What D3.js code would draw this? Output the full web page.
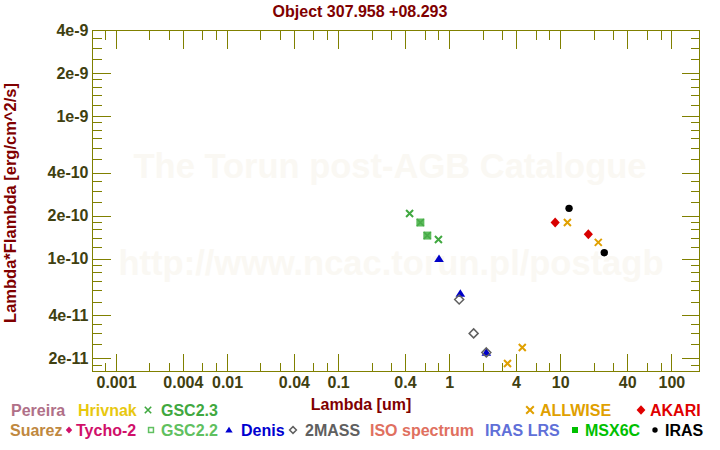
<!DOCTYPE html>
<html lang="en">
<head>
<meta charset="utf-8">
<title>Object 307.958 +08.293</title>
<script src="https://d3js.org/d3.v7.min.js"></script>
<style>
  body { margin: 0; background: #fff; }
  svg text { font-family: "Liberation Sans", Arial, sans-serif; font-weight: bold; }
</style>
</head>
<body>
<svg id="chart" width="720" height="450"></svg>
<script>
// photometry: wavelength [um] and lambda*F_lambda [erg/cm^2/s]
var gsc23Lambda = [0.44, 0.80];
var gsc23Flux = [2.07e-10, 1.36e-10];
var gsc22Lambda = [0.55, 0.635];
var gsc22Flux = [1.79e-10, 1.45e-10];
var denisLambda = [0.81, 1.26, 2.16];
var denisFlux = [1.0e-10, 5.7e-11, 2.2e-11];
var twomassLambda = [1.23, 1.66, 2.16];
var twomassFlux = [5.17e-11, 2.99e-11, 2.2e-11];
var allwiseLambda = [3.35, 4.55, 11.6, 22.0];
var allwiseFlux = [1.84e-11, 2.38e-11, 1.79e-10, 1.30e-10];
var akariLambda = [9.0, 17.9];
var akariFlux = [1.79e-10, 1.48e-10];
var irasLambda = [12.0, 24.9];
var irasFlux = [2.25e-10, 1.10e-10];

var xMajorTicks = [0.001, 0.004, 0.01, 0.04, 0.1, 0.4, 1, 4, 10, 40, 100];
var xTickLabels = ["0.001", "0.004", "0.01", "0.04", "0.1", "0.4", "1", "4", "10", "40", "100"];
var xMinorMantissa = [2, 3, 6, 8];
var yMajorTicks = [4e-9, 2e-9, 1e-9, 4e-10, 2e-10, 1e-10, 4e-11, 2e-11];
var yTickLabels = ["4e-9", "2e-9", "1e-9", "4e-10", "2e-10", "1e-10", "4e-11", "2e-11"];
var yMinorMantissa = [1.2, 1.4, 1.6, 1.8, 2.5, 3, 3.5, 5, 6, 7, 8, 9];

var legendNames = ["Pereira", "Hrivnak", "GSC2.3", "ALLWISE", "AKARI",
                   "Suarez", "Tycho-2", "GSC2.2", "Denis", "2MASS", "ISO spectrum", "IRAS LRS", "MSX6C", "IRAS"];
var legendColors = ["#b07088", "#e8c810", "#40a840", "#e0a000", "#e00000",
                    "#c08840", "#d0106a", "#60c060", "#0000d0", "#606060", "#e07060", "#6070d8", "#00c000", "#000000"];
var legendSymbols = [null, null, "cross", "cross", "diamond",
                     null, "diamond", "opensquare", "triangle", "opendiamond", null, null, "square", "dot"];
// layout of the legend: [symbol centre x, text x, row, symbol size]
var legendLayout = [[0, 11, 0, 0], [0, 78, 0, 0], [148, 161, 0, 3.2], [530, 540, 0, 3.8], [641, 650, 0, 4.4],
                    [0, 10, 1, 0], [69, 76, 1, 3.2], [151, 161, 1, 3.2], [229, 241, 1, 3.2], [293, 305, 1, 3.4],
                    [0, 370, 1, 0], [0, 485, 1, 0], [575, 585, 1, 3], [655, 665, 1, 2.7]];

var svg = d3.select("#chart");
var plotLeft = 92, plotRight = 699, plotTop = 30, plotBottom = 371;
var axisColor = "#808000";
var labelColor = "#404010";

var x = d3.scaleLog().domain([6.08e-4, 177.5]).range([plotLeft, plotRight]);
var y = d3.scaleLog().domain([1.63e-11, 4e-9]).range([plotBottom, plotTop]);

function minorTicks(scale, mantissas) {
  var dom = scale.domain();
  var lo = Math.floor(Math.log10(dom[0])) - 1, hi = Math.ceil(Math.log10(dom[1]));
  var out = [];
  for (var e = lo; e <= hi; e++) {
    mantissas.forEach(function(m) {
      var v = +(m * Math.pow(10, e)).toPrecision(4);
      if (v > dom[0] * 1.001 && v < dom[1] * 0.999) out.push(v);
    });
  }
  return out;
}
var xMinor = minorTicks(x, xMinorMantissa);
var yMinor = minorTicks(y, yMinorMantissa);

// watermark
var wm = svg.append("g").attr("fill", "#faf8f3").attr("text-anchor", "middle").style("font-size", "34.5px");
wm.append("text").attr("x", 390).attr("y", 178).text("The Torun post-AGB Catalogue");
wm.append("text").attr("x", 391).attr("y", 275).text("http://www.ncac.torun.pl/postagb");

// axes
function styleAxis(g) {
  g.select(".domain").remove();
  g.selectAll(".tick line").attr("stroke", axisColor).attr("shape-rendering", "crispEdges");
  g.selectAll(".tick text").attr("fill", labelColor).style("font-size", "16px")
    .style("font-family", "'Liberation Sans', Arial, sans-serif").style("font-weight", "bold");
}

var xLabelFor = function(d) { return xTickLabels[xMajorTicks.indexOf(d)]; };
var yLabelFor = function(d) { return yTickLabels[yMajorTicks.indexOf(d)]; };

svg.append("g").attr("transform", "translate(0," + (plotBottom + 0.5) + ")")
  .call(d3.axisBottom(x).tickValues(xMajorTicks).tickFormat(xLabelFor).tickSizeInner(-18).tickSizeOuter(0).tickPadding(5))
  .call(styleAxis);
svg.append("g").attr("transform", "translate(0," + (plotBottom + 0.5) + ")")
  .call(d3.axisBottom(x).tickValues(xMinor).tickFormat("").tickSizeInner(-9).tickSizeOuter(0))
  .call(styleAxis);
svg.append("g").attr("transform", "translate(0," + (plotTop + 0.5) + ")")
  .call(d3.axisTop(x).tickValues(xMajorTicks).tickFormat("").tickSizeInner(-18).tickSizeOuter(0))
  .call(styleAxis);
svg.append("g").attr("transform", "translate(0," + (plotTop + 0.5) + ")")
  .call(d3.axisTop(x).tickValues(xMinor).tickFormat("").tickSizeInner(-9).tickSizeOuter(0))
  .call(styleAxis);

svg.append("g").attr("transform", "translate(" + (plotLeft + 0.5) + ",0)")
  .call(d3.axisLeft(y).tickValues(yMajorTicks).tickFormat(yLabelFor).tickSizeInner(-18).tickSizeOuter(0).tickPadding(4))
  .call(styleAxis);
svg.append("g").attr("transform", "translate(" + (plotLeft + 0.5) + ",0)")
  .call(d3.axisLeft(y).tickValues(yMinor).tickFormat("").tickSizeInner(-9).tickSizeOuter(0))
  .call(styleAxis);
svg.append("g").attr("transform", "translate(" + (plotRight + 0.5) + ",0)")
  .call(d3.axisRight(y).tickValues(yMajorTicks).tickFormat("").tickSizeInner(-18).tickSizeOuter(0))
  .call(styleAxis);
svg.append("g").attr("transform", "translate(" + (plotRight + 0.5) + ",0)")
  .call(d3.axisRight(y).tickValues(yMinor).tickFormat("").tickSizeInner(-9).tickSizeOuter(0))
  .call(styleAxis);

svg.append("rect")
  .attr("x", plotLeft + 0.5).attr("y", plotTop + 0.5)
  .attr("width", plotRight - plotLeft).attr("height", plotBottom - plotTop)
  .attr("fill", "none").attr("stroke", axisColor).attr("shape-rendering", "crispEdges");

// titles
svg.append("text").attr("x", 360).attr("y", 17).attr("text-anchor", "middle")
  .attr("fill", "#800000").style("font-size", "16px").text("Object 307.958 +08.293");
svg.append("text").attr("x", 361).attr("y", 410).attr("text-anchor", "middle")
  .attr("fill", "#800000").style("font-size", "16px").text("Lambda [um]");
svg.append("text").attr("transform", "translate(15.5,203) rotate(-90)").attr("text-anchor", "middle")
  .attr("fill", "#800000").style("font-size", "16.5px").text("Lambda*Flambda [erg/cm^2/s]");

// marker drawing
function drawMarker(g, type, color, s) {
  if (type === "cross") {
    g.append("path").attr("d", "M" + (-s) + "," + (-s) + "L" + s + "," + s + "M" + (-s) + "," + s + "L" + s + "," + (-s))
      .attr("stroke", color).attr("stroke-width", s > 3.4 ? 2 : 1.6).attr("fill", "none");
  } else if (type === "square") {
    g.append("rect").attr("x", -s).attr("y", -s).attr("width", 2 * s).attr("height", 2 * s).attr("fill", color);
  } else if (type === "opensquare") {
    g.append("rect").attr("x", -s + 0.75).attr("y", -s + 0.75).attr("width", 2 * s - 1.5).attr("height", 2 * s - 1.5)
      .attr("fill", "none").attr("stroke", color).attr("stroke-width", 1.5);
  } else if (type === "gscsquare") {
    g.append("rect").attr("x", -s).attr("y", -s).attr("width", 2 * s).attr("height", 2 * s).attr("fill", "#5cbc5c");
    var c = s - 0.5;
    g.append("path").attr("d", "M" + (-c) + "," + (-c) + "L" + c + "," + c + "M" + (-c) + "," + c + "L" + c + "," + (-c))
      .attr("stroke", color).attr("stroke-width", 1.5).attr("fill", "none");
  } else if (type === "triangle") {
    g.append("path").attr("d", "M0," + (-s) + "L" + (s * 1.15) + "," + (s * 0.8) + "L" + (-s * 1.15) + "," + (s * 0.8) + "Z").attr("fill", color);
  } else if (type === "diamond") {
    g.append("path").attr("d", "M0," + (-s * 1.1) + "L" + s + ",0L0," + (s * 1.1) + "L" + (-s) + ",0Z").attr("fill", color);
  } else if (type === "opendiamond") {
    g.append("path").attr("d", "M0," + (-s) + "L" + s + ",0L0," + s + "L" + (-s) + ",0Z")
      .attr("fill", "none").attr("stroke", color).attr("stroke-width", 1.5);
  } else if (type === "dot") {
    g.append("circle").attr("r", s).attr("fill", color);
  }
}

function plotSeries(lambdas, fluxes, type, color, s) {
  var pts = lambdas.map(function(l, i) { return { lambda: l, flux: fluxes[i] }; });
  svg.append("g").selectAll("g").data(pts).enter().append("g")
    .attr("transform", function(d) { return "translate(" + x(d.lambda) + "," + y(d.flux) + ")"; })
    .each(function() { drawMarker(d3.select(this), type, color, s); });
}

plotSeries(gsc23Lambda, gsc23Flux, "cross", "#40a840", 3.5);
plotSeries(gsc22Lambda, gsc22Flux, "gscsquare", "#48aa48", 4);
plotSeries(denisLambda, denisFlux, "triangle", "#0000c8", 4.2);
plotSeries(twomassLambda, twomassFlux, "opendiamond", "#606060", 4.5);
plotSeries(allwiseLambda, allwiseFlux, "cross", "#e0a000", 3.5);
plotSeries(akariLambda, akariFlux, "diamond", "#d80000", 4.6);
plotSeries(irasLambda, irasFlux, "dot", "#000000", 3.7);

// legend
var rowBase = [415.5, 435.5];
legendNames.forEach(function(name, i) {
  var lay = legendLayout[i];
  var base = rowBase[lay[2]];
  if (legendSymbols[i]) {
    var g = svg.append("g").attr("transform", "translate(" + lay[0] + "," + (base - 5.5) + ")");
    drawMarker(g, legendSymbols[i], legendColors[i], lay[3]);
  }
  svg.append("text").attr("x", lay[1]).attr("y", base)
    .attr("fill", legendColors[i]).style("font-size", "16px").text(name);
});
</script>
</body>
</html>
